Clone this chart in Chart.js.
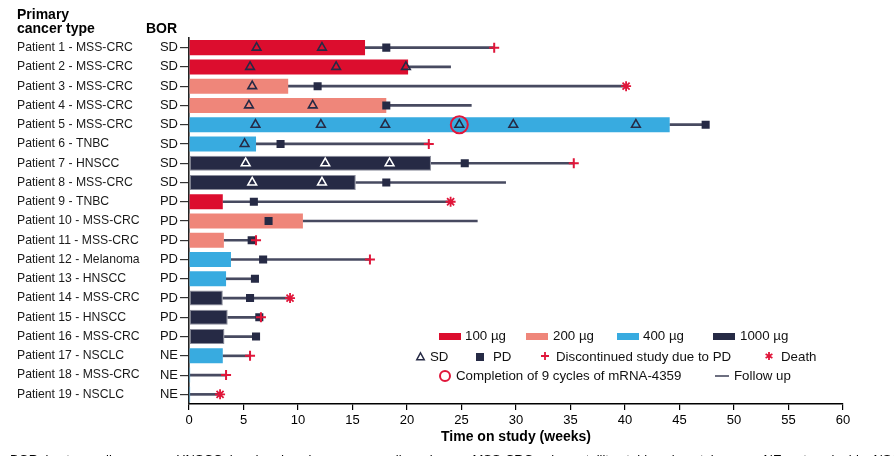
<!DOCTYPE html>
<html><head><meta charset="utf-8">
<script src="https://cdn.jsdelivr.net/npm/chart.js@4.4.1/dist/chart.umd.min.js"></script>
<style>
html,body{margin:0;padding:0;background:#fff;}
#wrap{position:relative;width:894px;height:456px;overflow:hidden;font-family:'Liberation Sans',Arial,sans-serif;color:#000;}
#c{position:absolute;left:0;top:0;}
.t{position:absolute;white-space:nowrap;}
.lg{position:absolute;white-space:nowrap;font-size:13.3px;line-height:16px;color:#111;}
.sw{position:absolute;width:22px;height:7px;}
svg{position:absolute;overflow:visible;}
</style></head><body>
<div id="wrap">
<canvas id="c" width="894" height="456"></canvas>
<div class="t" style="left:17px;top:8.4px;font-weight:bold;font-size:14px;line-height:13.5px;">Primary<br>cancer type</div>
<div class="t" style="left:146px;top:22px;font-weight:bold;font-size:14px;line-height:13.5px;">BOR</div>

<div class="sw" style="left:439px;top:332.5px;background:#dc0d2e"></div><div class="lg" style="left:465px;top:328px">100 µg</div>
<div class="sw" style="left:526px;top:332.5px;background:#ef867a"></div><div class="lg" style="left:553px;top:328px">200 µg</div>
<div class="sw" style="left:617px;top:332.5px;background:#38abe0"></div><div class="lg" style="left:643px;top:328px">400 µg</div>
<div class="sw" style="left:713px;top:332.5px;background:#262a45"></div><div class="lg" style="left:740px;top:328px">1000 µg</div>

<svg style="left:416px;top:352px" width="9" height="9"><polygon points="4.5,0.8 8.3,7.8 0.7,7.8" fill="none" stroke="#262a45" stroke-width="1.4"/></svg>
<div class="lg" style="left:430px;top:349px">SD</div>
<svg style="left:476px;top:353px" width="8" height="8"><rect x="0" y="0" width="8" height="8" fill="#262a45"/></svg>
<div class="lg" style="left:493px;top:349px">PD</div>
<svg style="left:541px;top:352px" width="8" height="8"><path d="M4 0V8M0 4H8" stroke="#e0163a" stroke-width="1.8"/></svg>
<div class="lg" style="left:556px;top:349px">Discontinued study due to PD</div>
<svg style="left:765px;top:352px" width="8" height="8"><path d="M4 0V8M0.6 2L7.4 6M0.6 6L7.4 2" stroke="#e0163a" stroke-width="1.8"/></svg>
<div class="lg" style="left:781px;top:349px">Death</div>

<svg style="left:439px;top:370px" width="12" height="12"><circle cx="6" cy="6" r="5" fill="none" stroke="#e0163a" stroke-width="2"/></svg>
<div class="lg" style="left:456px;top:368px">Completion of 9 cycles of mRNA-4359</div>
<svg style="left:715px;top:375px" width="14" height="2"><path d="M0 1H14" stroke="#3c3f56" stroke-width="1.5"/></svg>
<div class="lg" style="left:734px;top:368px">Follow up</div>

<div class="t" style="left:10px;top:451.5px;font-size:13px;line-height:15px;">BOR, best overall response; HNSCC, head and neck squamous cell carcinoma; MSS-CRC, microsatellite stable colorectal cancer; NE, not evaluable; NSCLC, non-small cell lung cancer</div>
</div>
<script>
const patients = [
  'Patient 1 - MSS-CRC','Patient 2 - MSS-CRC','Patient 3 - MSS-CRC','Patient 4 - MSS-CRC',
  'Patient 5 - MSS-CRC','Patient 6 - TNBC','Patient 7 - HNSCC','Patient 8 - MSS-CRC',
  'Patient 9 - TNBC','Patient 10 - MSS-CRC','Patient 11 - MSS-CRC','Patient 12 - Melanoma',
  'Patient 13 - HNSCC','Patient 14 - MSS-CRC','Patient 15 - HNSCC','Patient 16 - MSS-CRC',
  'Patient 17 - NSCLC','Patient 18 - MSS-CRC','Patient 19 - NSCLC'
];
const bor = ['SD','SD','SD','SD','SD','SD','SD','SD','PD','PD','PD','PD','PD','PD','PD','PD','NE','NE','NE'];
const doseGroups = ['100 µg','200 µg','400 µg','1000 µg'];
const dose = [100,100,200,200,400,400,1000,1000,100,200,200,400,400,1000,1000,1000,400,400,400];
const treatmentEnd = [16.15,20.1,9.1,18.1,44.1,6.15,22.2,15.3,3.1,10.45,3.2,3.85,3.4,3.1,3.55,3.25,3.1,0.1,0.1];
const followUpEnd = [28.0,24.0,40.1,25.9,47.4,22.0,35.3,29.05,24.0,26.45,6.15,16.6,6.05,9.27,6.6,6.15,5.6,3.4,2.85];
const sdWeeks = [[6.2,12.2],[5.6,13.5,19.9],[5.8],[5.5,11.35],[6.1,12.1,18.0,24.8,29.75,41.0],[5.1],[5.2,12.5,18.4],[5.8,12.2],
  null,null,null,null,null,null,null,null,null,null,null];
const pdWeek = [18.1,null,11.8,18.1,47.4,8.4,25.3,18.1,5.95,7.3,5.75,6.8,6.05,5.6,6.45,6.15,null,null,null];
const discontinuedWeek = [28.0,null,null,null,null,22.0,35.3,null,null,null,6.15,16.6,null,null,6.6,null,5.6,3.4,null];
const deathWeek = [null,null,40.1,null,null,null,null,null,24.0,null,null,null,null,9.27,null,null,null,null,2.85];
const cycle9Week = [null,null,null,null,24.8,null,null,null,null,null,null,null,null,null,null,null,null,null,null];
const xTicksMax = 60, xStep = 5;

const RED='#dc0d2e', SALMON='#ef867a', BLUE='#38abe0', NAVY='#262a45', MARK_RED='#e0163a';
const doseColors = {100:RED,200:SALMON,400:BLUE,1000:NAVY};
const doseValues = [100,200,400,1000];

function pts(arr){
  const out=[];
  arr.forEach((v,i)=>{ if(v==null) return; (Array.isArray(v)?v:[v]).forEach(w=>out.push({x:w,y:patients[i]})); });
  return out;
}
const common = {xAxisID:'x', yAxisID:'y'};
const markerBase = Object.assign({type:'scatter', showLine:false, pointHoverRadius:0}, common);

const datasets = [
  Object.assign({}, markerBase, {label:'Completion of 9 cycles', data:pts(cycle9Week), order:0,
    pointStyle:'circle', pointRadius:8.5, pointBorderWidth:2, pointBorderColor:MARK_RED, pointBackgroundColor:'rgba(0,0,0,0)'}),
  Object.assign({}, markerBase, {label:'Discontinued', data:pts(discontinuedWeek), order:1,
    pointStyle:'cross', pointRadius:5, pointBorderWidth:2, pointBorderColor:MARK_RED, pointBackgroundColor:MARK_RED}),
  Object.assign({}, markerBase, {label:'Death', data:pts(deathWeek), order:1,
    pointStyle:'star', pointRadius:5, pointBorderWidth:1.8, pointBorderColor:MARK_RED, pointBackgroundColor:MARK_RED}),
  Object.assign({}, markerBase, {label:'SD', data:pts(sdWeeks), order:2,
    pointStyle:'triangle', pointRadius:5, pointBorderWidth:1.6, pointBackgroundColor:'rgba(0,0,0,0)',
    pointBorderColor: ctx => { const r=ctx.raw; if(!r) return NAVY; return dose[patients.indexOf(r.y)]===1000 ? '#ffffff' : NAVY; }}),
  Object.assign({}, markerBase, {label:'PD', data:pts(pdWeek), order:3,
    pointStyle:'rect', pointRadius:5.7, pointBorderWidth:0, pointBackgroundColor:NAVY, pointBorderColor:NAVY}),
];
doseValues.forEach((d,k)=>{
  datasets.push(Object.assign({type:'bar', label:doseGroups[k], order:5, grouped:false,
    data: patients.map((p,i)=> dose[i]===d ? treatmentEnd[i] : null),
    backgroundColor: doseColors[d],
    borderColor: d===1000 ? '#8b8d9b' : doseColors[d],
    borderWidth: d===1000 ? 1 : 0,
    borderSkipped: false,
    barPercentage:0.78, categoryPercentage:1}, common));
});
datasets.push(Object.assign({type:'bar', label:'Follow up', order:6, grouped:false,
  data: patients.map((p,i)=>[treatmentEnd[i], followUpEnd[i]]),
  backgroundColor:'#474a60', barThickness:2, borderWidth:0}, common));

Chart.defaults.font.family = "'Liberation Sans', Arial, sans-serif";
Chart.defaults.color = '#000';

new Chart(document.getElementById('c'), {
  type:'bar',
  data:{labels:patients, datasets},
  options:{
    indexAxis:'y',
    responsive:false,
    animation:false,
    events:[],
    layout:{padding:{left:17, top:38, right:51, bottom:6}},
    plugins:{legend:{display:false}, tooltip:{enabled:false}},
    scales:{
      x:{type:'linear', position:'bottom', min:0, max:xTicksMax,
        ticks:{stepSize:xStep, font:{size:13}, color:'#000', padding:3, maxRotation:0},
        grid:{drawOnChartArea:false, drawTicks:true, tickLength:6, color:'#000', lineWidth:1.2},
        border:{display:true, color:'#000', width:1.6},
        title:{display:true, text:'Time on study (weeks)', font:{size:14, weight:'bold'}, color:'#000', padding:{top:2, bottom:4}},
        afterFit: s => { s.height = 46; }
      },
      y:{type:'category', position:'left', weight:1, offset:true, labels:patients,
        grid:{display:false, offset:true}, border:{display:false},
        ticks:{font:{size:12.2}, color:'#1a1a1a', crossAlign:'far', padding:0, autoSkip:false},
        afterFit: s => { s.width = 132; }
      },
      yb:{type:'category', position:'left', weight:0, offset:true, labels:bor,
        grid:{drawOnChartArea:false, drawTicks:true, tickLength:9, color:'#333', lineWidth:1.2, offset:false},
        border:{display:true, color:'#222', width:1.6},
        ticks:{font:{size:13}, color:'#111', crossAlign:'near', padding:2, autoSkip:false},
        afterFit: s => { s.width = 40; }
      }
    }
  }
});
</script>
</body></html>
